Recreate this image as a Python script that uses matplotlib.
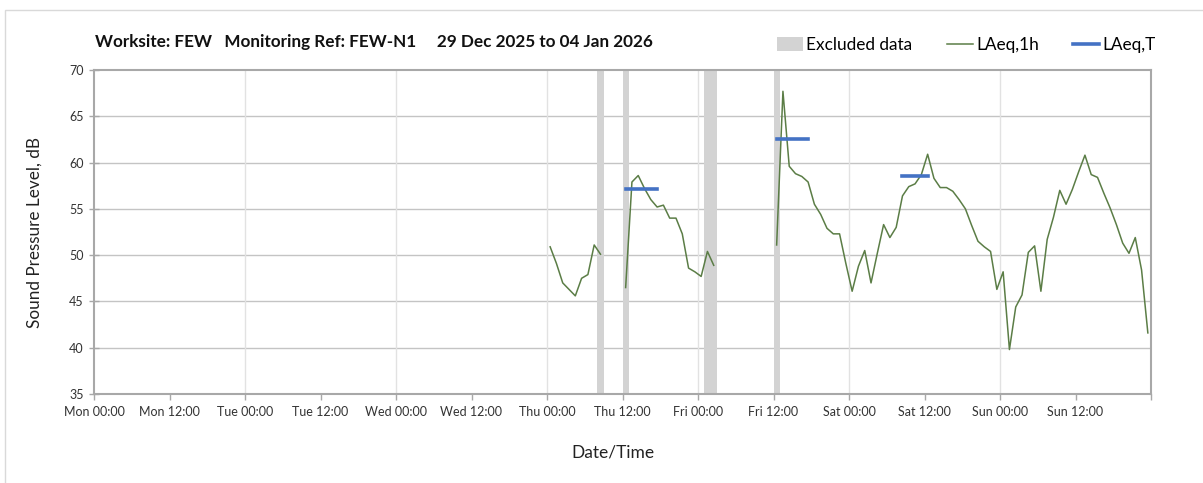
import pandas as pd
import matplotlib
matplotlib.use("Agg")
from matplotlib import pyplot as plt
from matplotlib.patches import Rectangle, Patch
from matplotlib.lines import Line2D

plt.rcParams['font.family'] = ['Lato', 'DejaVu Sans']

# LAeq,1h values, one per hour (plotted at hh:30)
thu_am_start = "2026-01-01 00:30"
thu_am = [50.9, 49.1, 47.0, 46.3, 45.6, 47.5, 47.9, 51.1, 50.1]

thu_pm_start = "2026-01-01 12:30"
thu_pm = [46.5, 57.9, 58.6, 57.2, 56.0, 55.2, 55.4, 54.0, 54.0, 52.3, 48.6, 48.2,
          47.7, 50.4, 48.9]

fri_pm_start = "2026-01-02 12:30"
fri_pm = [51.1, 67.7, 59.6, 58.8, 58.5, 57.9, 55.5, 54.4, 52.9, 52.3, 52.3, 49.1]
sat = [46.1, 48.8, 50.5, 47.0, 50.2, 53.3, 51.9, 53.0, 56.4, 57.4, 57.7, 58.7,
       60.9, 58.3, 57.3, 57.3, 56.9, 56.0, 55.0, 53.2, 51.5, 50.9, 50.4, 46.3]
sun = [48.2, 39.8, 44.4, 45.7, 50.3, 51.0, 46.1, 51.7, 54.1, 57.0, 55.5, 57.1,
       59.0, 60.8, 58.7, 58.4, 56.7, 55.1, 53.3, 51.3, 50.2, 51.9, 48.4, 41.6]

excluded_start = ["2026-01-01 08:00", "2026-01-01 12:00", "2026-01-02 01:00", "2026-01-02 12:00"]
excluded_end = ["2026-01-01 09:00", "2026-01-01 13:00", "2026-01-02 03:00", "2026-01-02 13:00"]

laeqt_start = ["2026-01-01 12:30", "2026-01-02 12:30", "2026-01-03 08:30"]
laeqt_end = ["2026-01-01 17:30", "2026-01-02 17:30", "2026-01-03 12:30"]
laeqt_val = [57.1, 62.5, 58.5]

week_start = pd.Timestamp("2025-12-29 00:00")
week_end = pd.Timestamp("2026-01-05 00:00")

green = '#5b7d46'
blue = '#4472c4'
grey_bar = '#d3d3d3'

fig = plt.figure(figsize=(12.03, 4.83), dpi=100)
ax = fig.add_axes([94/1203, 1-394/483, (1151-94)/1203, (394-70)/483])

for s, e in zip(excluded_start, excluded_end):
    ax.axvspan(pd.Timestamp(s), pd.Timestamp(e), color=grey_bar, lw=0, zorder=1)

segments = [(thu_am_start, thu_am), (thu_pm_start, thu_pm), (fri_pm_start, fri_pm + sat + sun)]
for start, vals in segments:
    t = pd.date_range(start, periods=len(vals), freq='h')
    ax.plot(t, vals, color=green, lw=1.1, zorder=3)

for s, e, v in zip(laeqt_start, laeqt_end, laeqt_val):
    ax.plot([pd.Timestamp(s), pd.Timestamp(e)], [v, v], color=blue, lw=2.6, zorder=4)

ax.set_xlim(week_start, week_end)
ax.set_ylim(35, 70)

ticks = pd.date_range(week_start, week_end, freq='12h')
labels = [t.strftime('%a %H:%M') for t in ticks[:-1]] + ['']
ax.set_xticks(ticks)
ax.set_xticklabels(labels)
ax.set_yticks(range(35, 71, 5))

for y in range(40, 70, 5):
    ax.axhline(y, color='#c4c4c4', lw=1.0, zorder=0)
for t in pd.date_range("2025-12-30", "2026-01-04", freq='D'):
    ax.axvline(t, color='#e2e2e2', lw=1.0, zorder=0)

for side in ['top', 'right', 'left', 'bottom']:
    ax.spines[side].set_color('#a8a8a8')
    ax.spines[side].set_linewidth(1.5)

ax.tick_params(axis='x', direction='out', length=4, width=1, color='#a8a8a8',
               labelsize=9, labelcolor='#333333', pad=5)
ax.tick_params(axis='y', direction='inout', length=7, width=1, color='#a8a8a8',
               labelsize=9, labelcolor='#333333', pad=4)

fig.text(95/1203, 1-42/483,
         "Worksite: FEW   Monitoring Ref: FEW-N1     29 Dec 2025 to 04 Jan 2026",
         fontsize=12.3, fontweight='bold', va='center', ha='left', color='#111111')
fig.text(35/1203, 1-232/483, "Sound Pressure Level, dB", rotation=90,
         fontsize=12.3, va='center', ha='center', color='#222222')
fig.text(613/1203, 1-452/483, "Date/Time", fontsize=12.5, va='center', ha='center',
         color='#222222')

handles = [Patch(facecolor=grey_bar, edgecolor='none'),
           Line2D([], [], color=green, lw=1.1),
           Line2D([], [], color=blue, lw=2.6)]
fig.legend(handles, ['Excluded data', 'LAeq,1h', 'LAeq,T'], ncol=3, frameon=False,
           loc='center right', bbox_to_anchor=(1156/1203, 1-45/483), fontsize=12.4,
           handlelength=1.5, handleheight=0.8, handletextpad=0.2, columnspacing=2.0,
           borderpad=0, borderaxespad=0)

fig.add_artist(Rectangle((5/1203, -0.1), 1.2, 1.1-10/483, transform=fig.transFigure,
                         fill=False, edgecolor='#d9d9d9', lw=1))

fig.savefig('out.png', dpi=100)
